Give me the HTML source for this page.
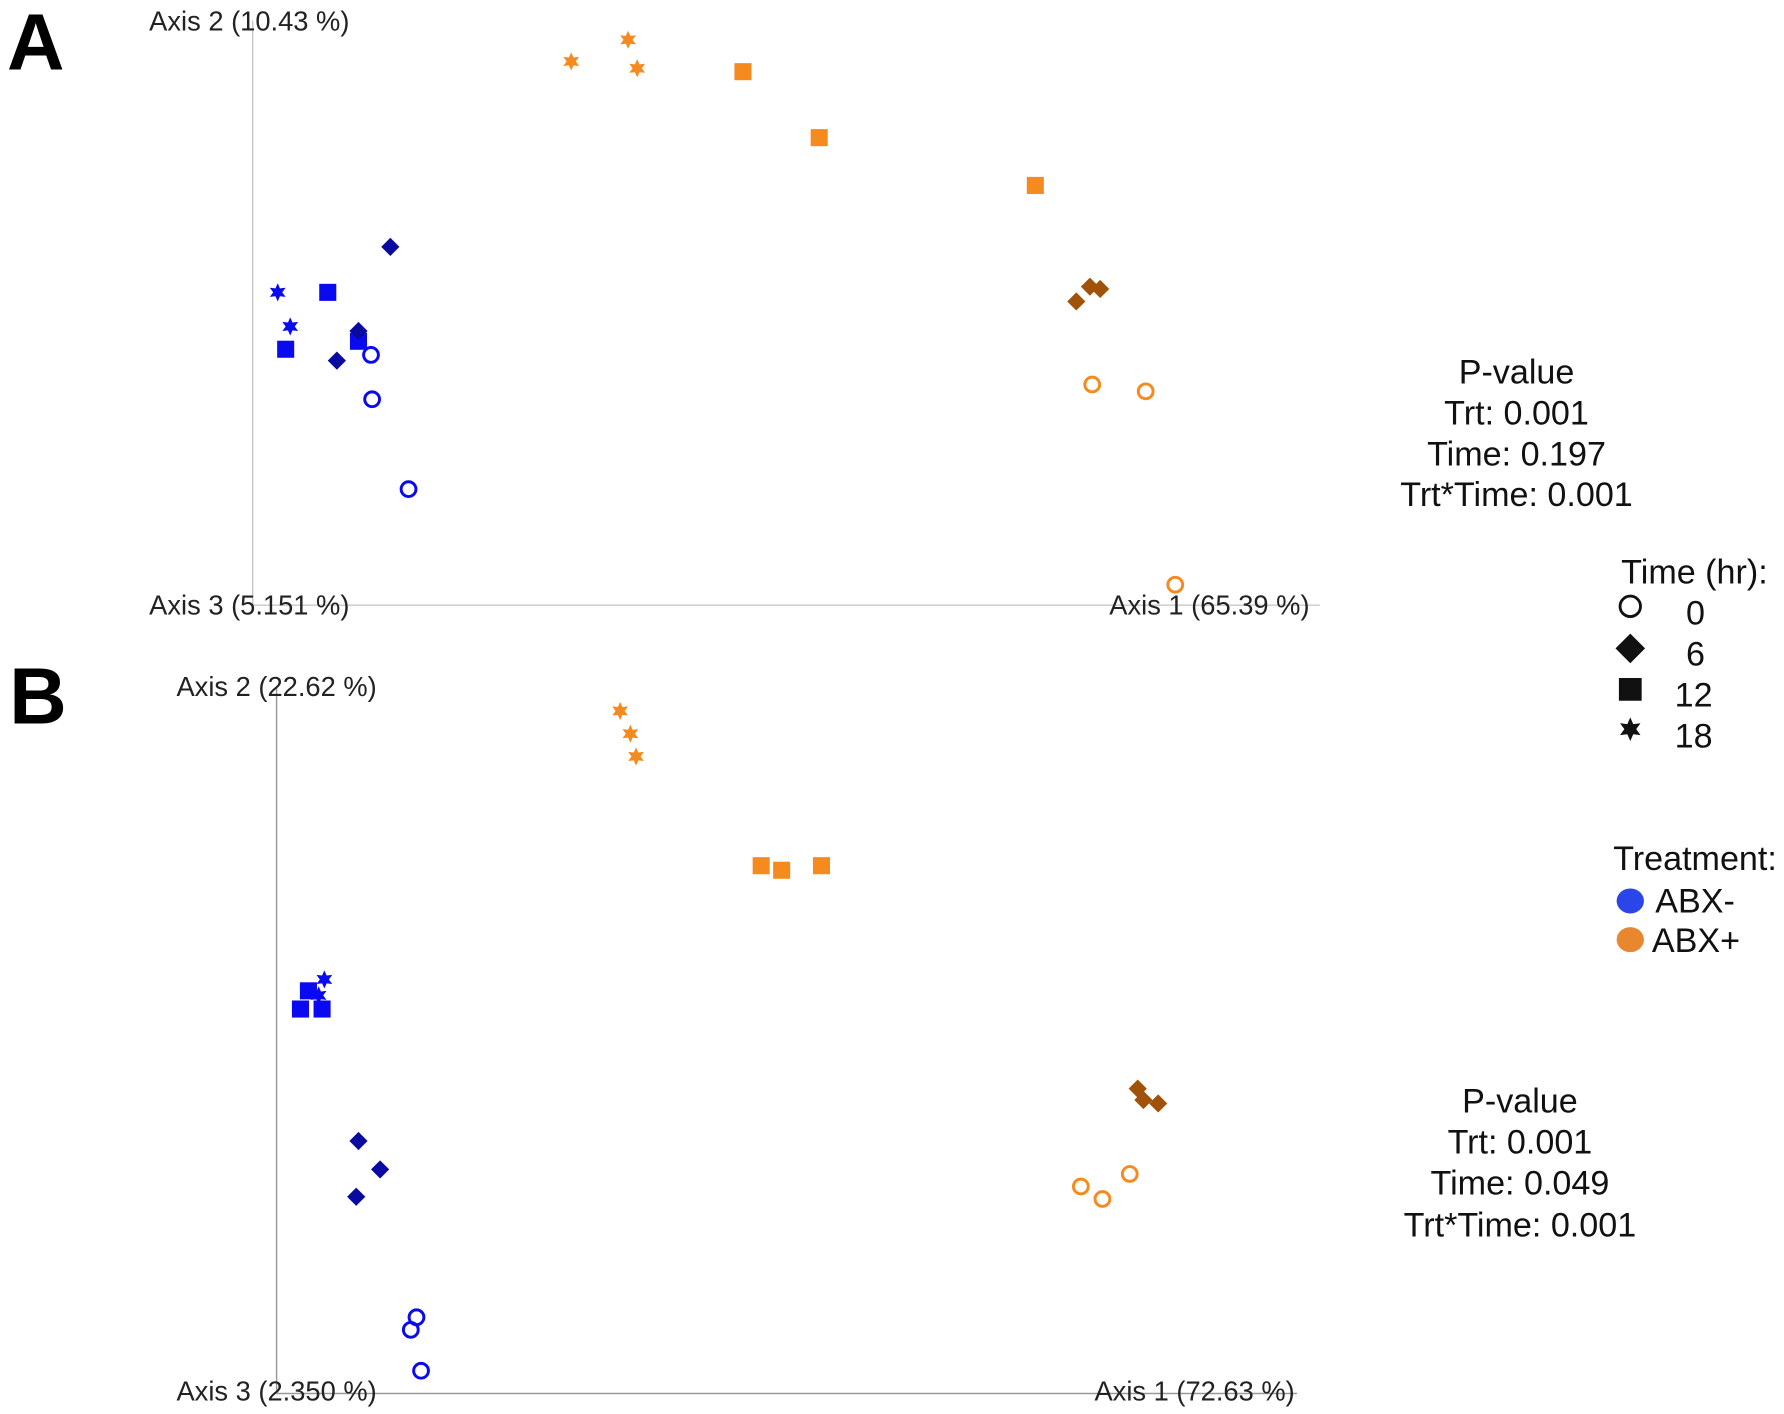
<!DOCTYPE html>
<html><head><meta charset="utf-8"><style>
html,body{margin:0;padding:0;background:#fff;}
svg{display:block;}
text{font-family:"Liberation Sans",sans-serif;}
</style></head><body>
<svg width="1784" height="1414" viewBox="0 0 1568 1243" xmlns="http://www.w3.org/2000/svg">
<defs>
<path id="st" d="M0,-8 L2,-3.46 L6.93,-4 L4,0 L6.93,4 L2,3.46 L0,8 L-2,3.46 L-6.93,4 L-4,0 L-6.93,-4 L-2,-3.46Z"/>
<rect id="sq" x="-7.5" y="-7.5" width="15" height="15"/>
<path id="dm" d="M0,-8 L8,0 L0,8 L-8,0Z"/>
<circle id="ci" r="6.5" fill="none" stroke-width="2.6"/>
</defs>
<rect width="1568" height="1243" fill="#fff"/>
<text x="6" y="61" font-size="70" font-weight="bold">A</text>
<text x="8" y="636" font-size="70" font-weight="bold">B</text>
<g stroke="#c8c8c8" stroke-width="1.3"><line x1="222" y1="18" x2="222" y2="532"/><line x1="222" y1="532" x2="1160" y2="532"/></g>
<g font-size="24" fill="#222">
<text x="131" y="27">Axis 2 (10.43 %)</text>
<text x="131" y="540">Axis 3 (5.151 %)</text>
<text x="975" y="540">Axis 1 (65.39 %)</text>
</g>
<g stroke="#999" stroke-width="1.3"><line x1="243" y1="603" x2="243" y2="1225"/><line x1="243" y1="1225" x2="1140" y2="1225"/></g>
<g font-size="24" fill="#222">
<text x="155" y="612">Axis 2 (22.62 %)</text>
<text x="155" y="1231">Axis 3 (2.350 %)</text>
<text x="962" y="1231">Axis 1 (72.63 %)</text>
</g>
<g fill="#f58a1f"><use href="#st" x="502" y="54"/><use href="#st" x="552" y="35"/><use href="#st" x="560" y="60"/>
<use href="#sq" x="653" y="63"/><use href="#sq" x="720" y="121"/><use href="#sq" x="910" y="163"/></g>
<g fill="#a0520a"><use href="#dm" x="946" y="265"/><use href="#dm" x="958" y="252"/><use href="#dm" x="967" y="254"/></g>
<g stroke="#f58a1f"><use href="#ci" x="960" y="338"/><use href="#ci" x="1007" y="344"/><use href="#ci" x="1033" y="514"/></g>
<g fill="#0a0af0"><use href="#st" x="244" y="257"/><use href="#st" x="255" y="287"/>
<use href="#sq" x="288" y="257"/><use href="#sq" x="251" y="307"/><use href="#sq" x="315" y="300"/></g>
<g fill="#0a0aa0"><use href="#dm" x="343" y="217"/><use href="#dm" x="315" y="291"/><use href="#dm" x="296" y="317"/></g>
<g stroke="#0a0af0"><use href="#ci" x="326" y="312"/><use href="#ci" x="327" y="351"/><use href="#ci" x="359" y="430"/></g>
<g fill="#f58a1f"><use href="#st" x="545" y="625"/><use href="#st" x="554" y="645"/><use href="#st" x="559" y="665"/>
<use href="#sq" x="669" y="761"/><use href="#sq" x="687" y="765"/><use href="#sq" x="722" y="761"/></g>
<g fill="#a0520a"><use href="#dm" x="1000" y="957"/><use href="#dm" x="1005" y="967"/><use href="#dm" x="1018" y="970"/></g>
<g stroke="#f58a1f"><use href="#ci" x="950" y="1043"/><use href="#ci" x="969" y="1054"/><use href="#ci" x="993" y="1032"/></g>
<g fill="#0a0af0"><use href="#sq" x="271" y="871"/><use href="#sq" x="264" y="887"/><use href="#sq" x="283" y="887"/>
<use href="#st" x="285" y="861"/><use href="#st" x="280" y="875"/></g>
<g fill="#0a0aa0"><use href="#dm" x="315" y="1003"/><use href="#dm" x="334" y="1028"/><use href="#dm" x="313" y="1052"/></g>
<g stroke="#0a0af0"><use href="#ci" x="366" y="1158"/><use href="#ci" x="361" y="1169"/><use href="#ci" x="370" y="1205"/></g>
<g font-size="30" fill="#111" text-anchor="middle">
<text x="1333" y="337">P-value</text><text x="1333" y="373">Trt: 0.001</text><text x="1333" y="409">Time: 0.197</text><text x="1333" y="445">Trt*Time: 0.001</text>
<text x="1336" y="978">P-value</text><text x="1336" y="1014">Trt: 0.001</text><text x="1336" y="1050">Time: 0.049</text><text x="1336" y="1087">Trt*Time: 0.001</text>
</g>
<g font-size="30" fill="#111">
<text x="1425" y="513">Time (hr):</text>
<text x="1482" y="549">0</text><text x="1482" y="585">6</text><text x="1472" y="621">12</text><text x="1472" y="657">18</text>
<text x="1418" y="765">Treatment:</text>
<text x="1455" y="802">ABX-</text><text x="1452" y="837">ABX+</text>
</g>
<circle cx="1433" cy="533" r="9" fill="none" stroke="#111" stroke-width="2.5"/>
<path d="M1433,557 L1446,570 L1433,583 L1420,570Z" fill="#111"/>
<rect x="1423" y="596" width="20" height="20" fill="#111"/>
<use href="#st" fill="#111" transform="translate(1433 641) scale(1.3)"/>
<ellipse cx="1433" cy="792" rx="12" ry="11" fill="#2a45e8"/>
<ellipse cx="1433" cy="826" rx="12" ry="11" fill="#e8872e"/>
</svg>
</body></html>
